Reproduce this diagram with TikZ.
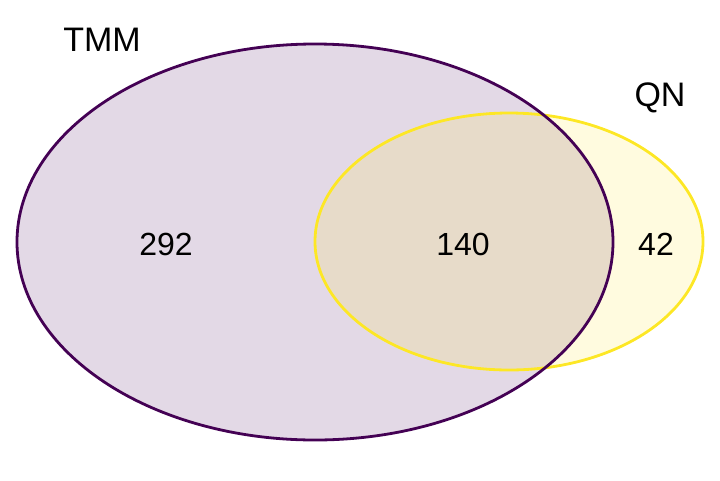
\documentclass[tikz,border=0pt]{standalone}
\usepackage{fontspec}
\setmainfont{Liberation Sans}
\usepackage{tikz}
\usetikzlibrary{positioning}
\definecolor{tmmcol}{HTML}{440154}
\definecolor{qncol}{HTML}{FDE725}

\begin{document}
\begin{tikzpicture}[x=1pt,y=-1pt,
		setlabel/.style={font=\fontsize{34}{40}\selectfont, inner sep=0pt},
		countlabel/.style={font=\fontsize{32}{38}\selectfont, inner sep=0pt}]
				\useasboundingbox (0,0) rectangle (720,480);
				% filled sets
				\fill[tmmcol, fill opacity=0.15] (315,242) ellipse [x radius=298, y radius=198];
				\fill[qncol, fill opacity=0.15] (509,241.5) ellipse [x radius=194, y radius=128.5];
				% outlines
				\draw[qncol, line width=2.8] (509,241.5) ellipse [x radius=194, y radius=128.5];
				\draw[tmmcol, line width=2.8] (315,242) ellipse [x radius=298, y radius=198];
				% set names
				\node[setlabel] (tmm) at (102,40) {TMM};
				\node[setlabel] (qn) at (660,98) {QN};
				% counts
				\node[countlabel] (onlytmm) at (166,244) {292};
				\node[countlabel] (both) at (463,244) {140};
				\node[countlabel] (onlyqn) at (656,244) {42};
			\end{tikzpicture}
\end{document}
